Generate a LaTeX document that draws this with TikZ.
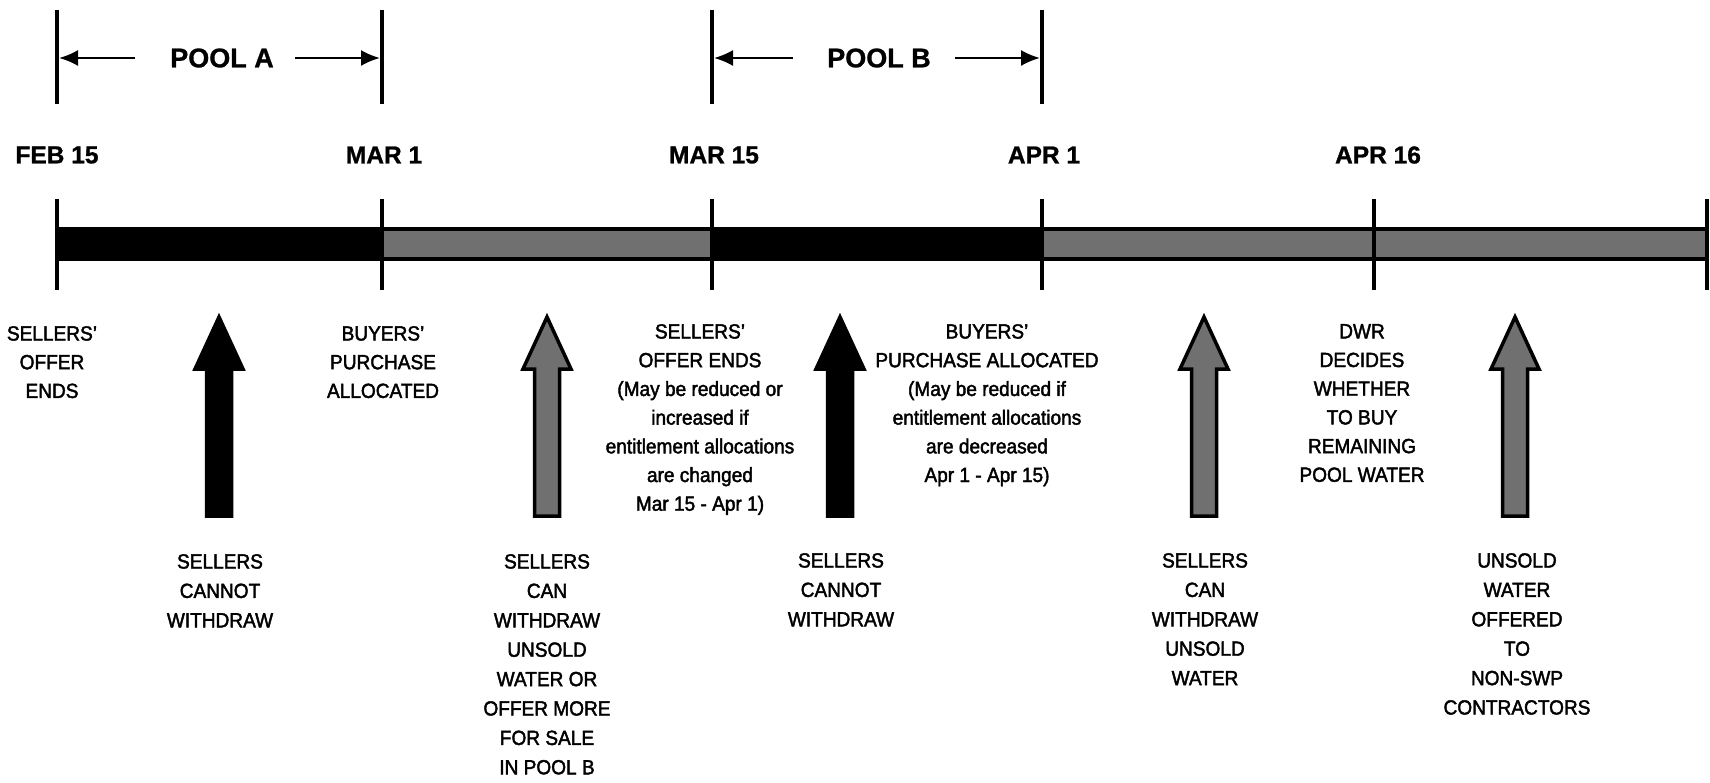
\documentclass[tikz,border=0pt]{standalone}
\usepackage{fontspec}
\setmainfont{Liberation Sans}
\newfontfamily\lblfont[Ligatures=TeX,FakeStretch=0.93,FakeBold=2]{Liberation Sans}
\newfontfamily\hdfont[Ligatures=TeX,FakeBold=1]{Liberation Sans Bold}
\usetikzlibrary{arrows.meta}
\definecolor{hatch}{RGB}{112,112,112}
\newcommand\blockarrow[3]{%
  \filldraw[#2, draw=black, line width=3.5pt, line join=miter]
    (#1,317) coordinate (#3-tip) -- (#1+24,369) -- (#1+12.5,369) -- (#1+12.5,516)
    -- (#1-12.5,516) -- (#1-12.5,369) -- (#1-24,369) -- cycle;}
\begin{document}
\begin{tikzpicture}[x=1pt,y=-1pt,
  tick/.style={line width=3.2pt},
  poolarrow/.style={line width=2.2pt,-{Latex[length=19pt,width=16pt]}},
  datelbl/.style={font=\hdfont\fontsize{24.5}{28}\selectfont, inner sep=0},
  poollbl/.style={font=\hdfont\fontsize{27}{32}\selectfont, inner sep=0},
  lbl/.style={font=\lblfont\fontsize{20.5}{28.7}\selectfont, align=center, anchor=north, inner sep=0},
  lbllow/.style={lbl, font=\lblfont\fontsize{20.5}{29.4}\selectfont},
  grayseg/.style={fill=hatch, draw=black, line width=4pt},
]
\useasboundingbox (0,0) rectangle (1710,782);
\fill[white] (0,0) rectangle (1710,782);

% tick coordinates
\foreach \n/\x in {feb/57, mara/382, marb/712, apra/1042, aprb/1374, endp/1707}{
  \coordinate (\n-lt) at (\x,199);
  \coordinate (\n-lb) at (\x,290);
}
\foreach \n/\x in {feb/57, mara/382, marb/712, apra/1042}{
  \coordinate (\n-ut) at (\x,10);
  \coordinate (\n-ub) at (\x,104);
}

% bar
\fill[black] (57,227) rectangle (382,261);
\filldraw[grayseg] (382,229) rectangle (712,259);
\fill[black] (712,227) rectangle (1042,261);
\filldraw[grayseg] (1042,229) rectangle (1707,259);

% ticks
\foreach \n in {feb, mara, marb, apra, aprb, endp}{
  \draw[tick] (\n-lt) -- (\n-lb);
}
\foreach \n in {feb, mara, marb, apra}{
  \draw[tick] (\n-ut) -- (\n-ub);
}

% pools
\node[poollbl] (poolA) at (222,58) {POOL A};
\node[poollbl] (poolB) at (879,58) {POOL B};
\coordinate (paL) at (135,58); \coordinate (paLt) at (59,58);
\coordinate (paR) at (295,58); \coordinate (paRt) at (380,58);
\coordinate (pbL) at (793,58); \coordinate (pbLt) at (714,58);
\coordinate (pbR) at (955,58); \coordinate (pbRt) at (1040,58);
\draw[poolarrow] (paL) -- (paLt);
\draw[poolarrow] (paR) -- (paRt);
\draw[poolarrow] (pbL) -- (pbLt);
\draw[poolarrow] (pbR) -- (pbRt);

% dates
\node[datelbl] (dfeb) at (57,155) {FEB 15};
\node[datelbl] (dmara) at (384,155) {MAR 1};
\node[datelbl] (dmarb) at (714,155) {MAR 15};
\node[datelbl] (dapra) at (1044,155) {APR 1};
\node[datelbl] (daprb) at (1378,155) {APR 16};

% block arrows
\blockarrow{219}{fill=black}{a1}
\blockarrow{547}{fill=hatch}{a2}
\blockarrow{840}{fill=black}{a3}
\blockarrow{1204}{fill=hatch}{a4}
\blockarrow{1515}{fill=hatch}{a5}

% labels
\node[lbl] (l1) at (52,326) {SELLERS'\\OFFER\\ENDS};
\node[lbllow] (l2) at (220,554) {SELLERS\\CANNOT\\WITHDRAW};
\node[lbl] (l3) at (383,326) {BUYERS'\\PURCHASE\\ALLOCATED};
\node[lbllow] (l4) at (547,554) {SELLERS\\CAN\\WITHDRAW\\UNSOLD\\WATER OR\\OFFER MORE\\FOR SALE\\IN POOL B};
\node[lbl] (l5) at (700,324) {SELLERS'\\OFFER ENDS\\(May be reduced or\\increased if\\entitlement allocations\\are changed\\Mar 15 - Apr 1)};
\node[lbllow] (l6) at (841,553) {SELLERS\\CANNOT\\WITHDRAW};
\node[lbl] (l7) at (987,324) {BUYERS'\\PURCHASE ALLOCATED\\(May be reduced if\\entitlement allocations\\are decreased\\Apr 1 - Apr 15)};
\node[lbllow] (l8) at (1205,553) {SELLERS\\CAN\\WITHDRAW\\UNSOLD\\WATER};
\node[lbl] (l9) at (1362,324) {DWR\\DECIDES\\WHETHER\\TO BUY\\REMAINING\\POOL WATER};
\node[lbllow] (l10) at (1517,553) {UNSOLD\\WATER\\OFFERED\\TO\\NON-SWP\\CONTRACTORS};
\end{tikzpicture}
\end{document}
